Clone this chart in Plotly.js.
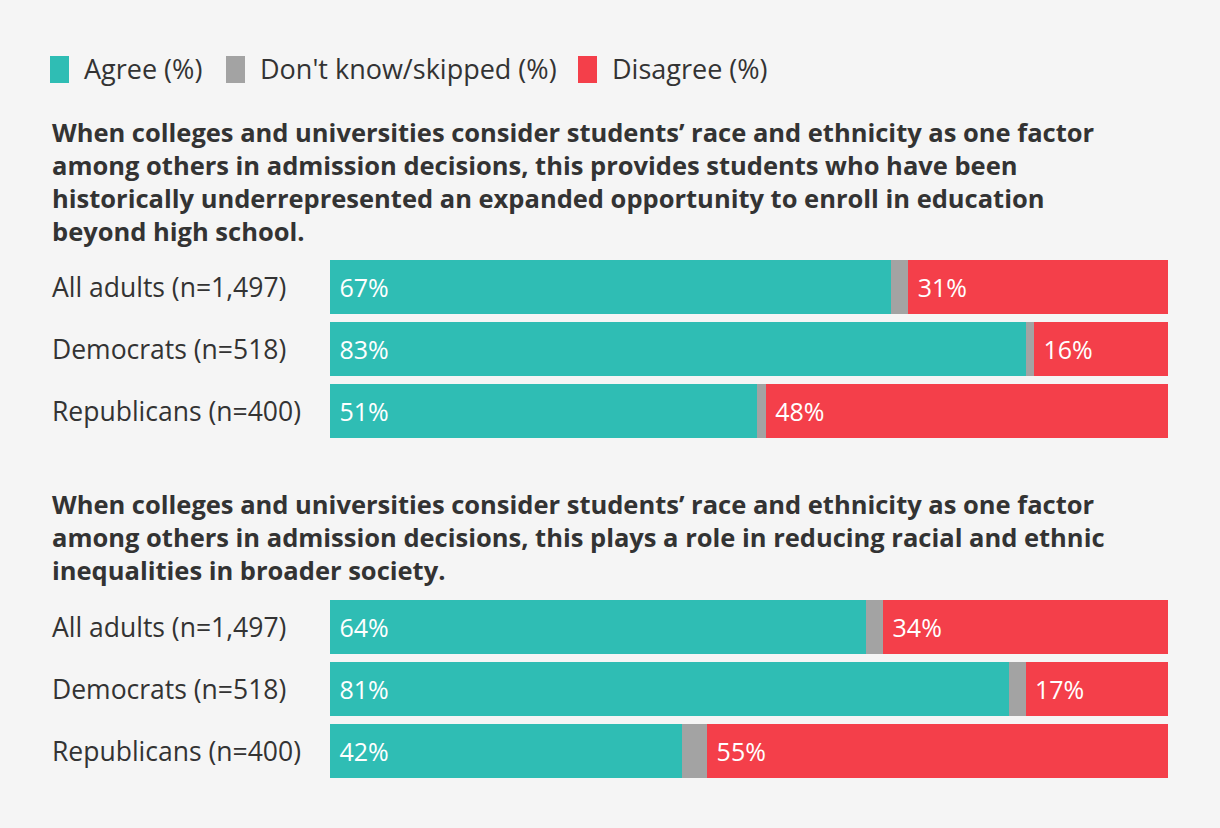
<!DOCTYPE html>
<html><head><meta charset="utf-8">
<script src="https://cdn.plot.ly/plotly-3.0.1.min.js"></script>
<style>html,body{margin:0;padding:0;background:#f5f5f5;}#chart{width:1220px;height:828px;}</style>
</head><body><div id="chart"></div>
<script>
const groups = ["All adults (n=1,497)", "Democrats (n=518)", "Republicans (n=400)"];
const q1TitleLines = [
  "When colleges and universities consider students’ race and ethnicity as one factor",
  "among others in admission decisions, this provides students who have been",
  "historically underrepresented an expanded opportunity to enroll in education",
  "beyond high school."
];
const q2TitleLines = [
  "When colleges and universities consider students’ race and ethnicity as one factor",
  "among others in admission decisions, this plays a role in reducing racial and ethnic",
  "inequalities in broader society."
];
const q1Agree = [67, 83, 51];
const q1DontKnow = [2, 1, 1];
const q1Disagree = [31, 16, 48];
const q2Agree = [64, 81, 42];
const q2DontKnow = [2, 2, 3];
const q2Disagree = [34, 17, 55];
const seriesNames = ["Agree (%)", "Don't know/skipped (%)", "Disagree (%)"];
const colors = ["#2fbdb4", "#a3a3a3", "#f43f4a"];

const W = 1220, H = 828, L = 330, R = 52;
const px = x => (x - L) / (W - L - R);
const py = y => 1 - y / H;
const FONT = '"Open Sans", sans-serif';

function mk(vals, i, ax, withText) {
  return {
    type: 'bar', orientation: 'h', x: vals, y: groups, yaxis: ax, xaxis: ax === 'y' ? 'x' : 'x2',
    name: seriesNames[i], marker: {color: colors[i]},
    text: withText ? vals.map(v => '\u00a0' + v + '%') : undefined,
    textposition: withText ? 'inside' : 'none',
    insidetextanchor: 'start',
    textfont: {color: '#ffffff', size: 25, family: FONT},
    hoverinfo: 'x+name', showlegend: false
  };
}
const data = [
  mk(q1Agree, 0, 'y', true), mk(q1DontKnow, 1, 'y', false), mk(q1Disagree, 2, 'y', true),
  mk(q2Agree, 0, 'y2', true), mk(q2DontKnow, 1, 'y2', false), mk(q2Disagree, 2, 'y2', true)
];

const annotations = [];
const labelFont = {family: FONT, size: 26.5, color: '#333333'};
groups.forEach(g => {
  annotations.push({xref: 'paper', yref: 'y', x: px(50), y: g, text: g, showarrow: false, xanchor: 'left', yanchor: 'middle', font: labelFont});
  annotations.push({xref: 'paper', yref: 'y2', x: px(50), y: g, text: g, showarrow: false, xanchor: 'left', yanchor: 'middle', font: labelFont});
});
const qFont = {family: FONT, size: 25.5, color: '#333333', weight: 'bold'};
annotations.push({xref: 'paper', yref: 'paper', x: px(50), y: py(113), text: '<b>' + q1TitleLines.join('<br>') + '</b>', showarrow: false, xanchor: 'left', yanchor: 'top', align: 'left', font: qFont});
annotations.push({xref: 'paper', yref: 'paper', x: px(50), y: py(485), text: '<b>' + q2TitleLines.join('<br>') + '</b>', showarrow: false, xanchor: 'left', yanchor: 'top', align: 'left', font: qFont});

// custom legend
const legX = [50, 226, 578];
const shapes = [];
seriesNames.forEach((n, i) => {
  shapes.push({type: 'rect', xref: 'paper', yref: 'paper', x0: px(legX[i]), x1: px(legX[i] + 19), y0: py(83), y1: py(56), fillcolor: colors[i], line: {width: 0}});
  annotations.push({xref: 'paper', yref: 'paper', x: px(legX[i] + 32), y: py(68), text: n, showarrow: false, xanchor: 'left', yanchor: 'middle', font: {family: FONT, size: 27, color: '#333333'}});
});

const axX = {range: [0, 100], showgrid: false, zeroline: false, showticklabels: false, fixedrange: true};
const layout = {
  width: W, height: H, paper_bgcolor: '#f5f5f5', plot_bgcolor: '#f5f5f5',
  margin: {l: L, r: R, t: 0, b: 0},
  barmode: 'stack', bargap: 8 / 62,
  showlegend: false,
  xaxis: Object.assign({anchor: 'y'}, axX),
  xaxis2: Object.assign({anchor: 'y2'}, axX),
  yaxis: {domain: [py(442), py(256)], autorange: 'reversed', showticklabels: false, showgrid: false, zeroline: false, fixedrange: true},
  yaxis2: {domain: [py(782), py(596)], autorange: 'reversed', showticklabels: false, showgrid: false, zeroline: false, fixedrange: true},
  annotations: annotations, shapes: shapes
};
Plotly.newPlot('chart', data, layout, {displayModeBar: false});
</script></body></html>
